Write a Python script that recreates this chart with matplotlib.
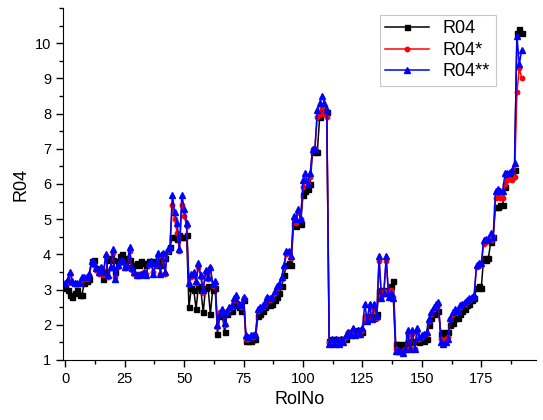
import numpy as np
import matplotlib
matplotlib.use('Agg')
import matplotlib.pyplot as plt
from matplotlib.ticker import MultipleLocator

'''
Data (read from the picture)
'''
r04 = [3.05, 3.0, 2.85, 2.8, 2.9, 3.0, 2.85, 2.85, 3.2, 3.25,
       3.3, 3.8, 3.85, 3.6, 3.5, 3.55, 3.3, 3.5, 3.85, 3.9,
       3.85, 3.5, 3.8, 3.95, 4.0, 3.85, 3.9, 3.85, 3.65, 3.7,
       3.75, 3.7, 3.8, 3.75, 3.7, 3.8, 3.75, 3.8, 3.7, 3.9,
       3.7, 4.0, 3.9, 4.1, 4.2, 4.5, 4.5, 4.45, 4.55, 4.5,
       4.5, 4.55, 2.5, 3.05, 3.0, 2.45, 3.1, 3.0, 2.35, 3.05,
       3.1, 2.3, 3.0, 3.05, 1.75, 2.25, 2.3, 1.8, 2.3, 2.4,
       2.4, 2.55, 2.6, 2.5, 2.4, 2.7, 1.55, 1.55, 1.55, 1.6,
       1.6, 2.25, 2.3, 2.4, 2.5, 2.6, 2.55, 2.6, 2.7, 2.8,
       2.9, 3.1, 3.4, 3.7, 3.75, 3.7, 4.85, 4.8, 4.9, 4.85,
       5.7, 5.8, 5.85, 6.0, 6.9, 6.95, 6.9, 7.9, 8.1, 8.15,
       8.05,
       1.55, 1.6, 1.55, 1.6, 1.55, 1.6, 1.6, 1.6, 1.75, 1.8,
       1.8, 1.8, 1.85, 1.85, 1.8, 2.2, 2.25, 2.2, 2.25, 2.2,
       2.3, 2.95, 3.0, 2.9, 3.0, 2.95, 3.1, 3.25, 1.45, 1.45,
       1.4, 1.45, 1.4, 1.5, 1.55, 1.5, 1.55, 1.55, 1.5, 1.6,
       1.55, 1.6, 2.0, 2.2, 2.3, 2.35, 2.4, 1.75, 1.8, 1.75,
       1.8, 2.0, 2.05, 2.2, 2.2, 2.3, 2.4, 2.45, 2.55, 2.6,
       2.7, 2.75, 3.05, 3.1, 3.05, 3.9, 3.85, 3.9, 4.35, 4.5,
       5.35, 5.35, 5.4, 5.4, 5.9, 6.2, 6.25, 6.3, 6.4, 10.3,
       10.4, 10.3]

r04_s = [3.15, 3.2, 3.45, 3.2, 3.15, 3.15, 3.2, 3.3, 3.3, 3.3,
         3.4, 3.75, 3.7, 3.55, 3.45, 3.6, 3.4, 3.95, 3.35, 3.6,
         4.05, 3.35, 3.65, 3.75, 3.8, 3.6, 3.65, 4.1, 3.55, 3.45,
         3.45, 3.45, 3.45, 3.5, 3.45, 3.7, 3.75, 3.5, 3.7, 3.95,
         3.45, 3.95, 3.45, 4.1, 4.15, 5.4, 5.0, 4.6, 4.1, 5.4,
         5.1, 4.8, 3.15, 3.35, 3.45, 3.2, 3.65, 3.35, 2.9, 3.5,
         3.3, 3.6, 3.1, 3.2, 1.95, 2.35, 2.4, 2.0, 2.4, 2.45,
         2.5, 2.7, 2.8, 2.6, 2.5, 2.75, 1.6, 1.6, 1.65, 1.65,
         1.7, 2.4, 2.45, 2.5, 2.6, 2.75, 2.7, 2.75, 2.9, 3.05,
         3.1, 3.3, 3.65, 4.0, 4.05, 3.9, 5.0, 4.9, 5.2, 5.0,
         5.9, 6.1, 6.0, 6.2, 7.0, 7.0, 7.9, 8.0, 8.2, 8.0,
         7.9,
         1.5, 1.55, 1.5, 1.55, 1.5, 1.6, 1.55, 1.65, 1.8, 1.75,
         1.85, 1.75, 1.8, 1.7, 1.85, 2.25, 2.1, 2.5, 2.15, 2.45,
         2.2, 3.8, 2.8, 2.95, 3.8, 2.85, 3.0, 2.8, 1.3, 1.25,
         1.25, 1.2, 1.3, 1.7, 1.35, 1.75, 1.3, 1.8, 1.6, 1.65,
         1.7, 1.75, 2.1, 2.3, 2.45, 2.5, 2.55, 1.6, 1.55, 1.6,
         1.65, 2.15, 2.3, 2.4, 2.35, 2.5, 2.55, 2.6, 2.65, 2.7,
         2.75, 2.8, 3.65, 3.7, 3.7, 4.3, 4.35, 4.4, 4.4, 4.5,
         5.6, 5.7, 5.6, 5.6, 6.0, 6.1, 6.15, 6.1, 6.2, 8.6,
         9.3, 9.0]

r04_ss = [3.2, 3.3, 3.5, 3.25, 3.2, 3.2, 3.2, 3.35, 3.35, 3.35,
          3.45, 3.8, 3.75, 3.6, 3.5, 3.65, 3.5, 4.0, 3.4, 3.65,
          4.15, 3.3, 3.7, 3.8, 3.85, 3.65, 3.7, 4.2, 3.6, 3.5,
          3.4, 3.4, 3.45, 3.5, 3.4, 3.75, 3.8, 3.45, 3.75, 4.05,
          3.45, 4.05, 3.5, 4.15, 4.2, 5.7, 5.2, 4.9, 4.15, 5.7,
          5.3, 4.9, 3.2, 3.45, 3.5, 3.25, 3.75, 3.4, 3.0, 3.55,
          3.35, 3.65, 3.15, 3.25, 2.0, 2.3, 2.45, 2.05, 2.35, 2.5,
          2.55, 2.75, 2.85, 2.6, 2.55, 2.8, 1.7, 1.65, 1.7, 1.7,
          1.75, 2.45, 2.5, 2.55, 2.65, 2.8, 2.75, 2.8, 2.95, 3.1,
          3.15, 3.35, 3.7, 4.1, 4.1, 3.95, 5.1, 5.0, 5.3, 5.0,
          6.1, 6.3, 6.0, 6.3, 7.0, 7.0, 8.1, 8.3, 8.5, 8.3,
          8.1,
          1.45, 1.6, 1.45, 1.6, 1.45, 1.6, 1.5, 1.7, 1.8, 1.7,
          1.9, 1.7, 1.85, 1.75, 1.9, 2.6, 2.1, 2.6, 2.15, 2.6,
          2.25, 3.95, 2.75, 2.9, 3.95, 2.8, 2.9, 2.75, 1.25, 1.25,
          1.25, 1.2, 1.3, 1.85, 1.3, 1.85, 1.3, 1.9, 1.65, 1.7,
          1.75, 1.8, 2.15, 2.35, 2.5, 2.6, 2.65, 1.5, 1.45, 1.5,
          1.6, 2.2, 2.35, 2.45, 2.4, 2.55, 2.6, 2.65, 2.7, 2.75,
          2.8, 2.85, 3.7, 3.75, 3.75, 4.4, 4.45, 4.45, 4.6, 4.5,
          5.8, 5.85, 5.8, 5.8, 6.3, 6.3, 6.35, 6.4, 6.6, 10.2,
          9.4, 9.8]

rol_no = np.arange(len(r04))

plt.rcParams['font.family'] = ['Liberation Sans', 'DejaVu Sans']


def main():
    fig = plt.figure(figsize=(5.43, 4.2), dpi=100)
    ax = fig.add_axes([0.116, 0.143, 0.871, 0.838])

    ax.plot(rol_no, r04, color='black', lw=1.1, marker='s', ms=3.6, label='R04')
    ax.plot(rol_no, r04_s, color='red', lw=1.1, marker='o', ms=3.2, label='R04*')
    ax.plot(rol_no, r04_ss, color='blue', lw=1.1, marker='^', ms=4.5, label='R04**')

    ax.set_xlim(-1, 198)
    ax.set_ylim(1, 11)
    ax.xaxis.set_major_locator(MultipleLocator(25))
    ax.xaxis.set_minor_locator(MultipleLocator(12.5))
    ax.set_yticks([1, 2, 3, 4, 5, 6, 7, 8, 9, 10])
    ax.yaxis.set_minor_locator(MultipleLocator(0.5))

    ax.spines['top'].set_visible(False)
    ax.spines['right'].set_visible(False)
    ax.tick_params(which='major', direction='out', length=5, width=1, labelsize=10.5)
    ax.tick_params(which='minor', direction='out', length=3, width=1)

    ax.set_xlabel('RolNo', fontsize=13)
    ax.set_ylabel('R04', fontsize=13)

    leg = ax.legend(loc='upper right', bbox_to_anchor=(0.915, 0.98), borderaxespad=0,
                    fontsize=13, fancybox=False, framealpha=1, edgecolor='#c8c8c8',
                    handlelength=2.4, borderpad=0.3, labelspacing=0.25)
    leg.get_frame().set_linewidth(0.8)

    fig.savefig('out.png', dpi=100)


if __name__ == '__main__':
    main()
